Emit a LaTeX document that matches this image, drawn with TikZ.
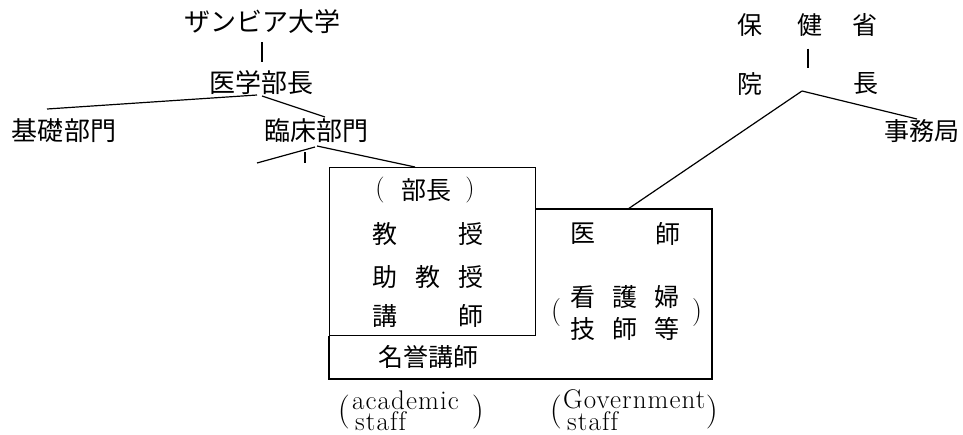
\documentclass[tikz,border=0pt]{standalone}
\usepackage{fontspec}
\newfontfamily\jp{Noto Sans CJK JP}
\newfontfamily\lsp[LetterSpace=4,Ligatures=NoCommon]{Latin Modern Roman}
\begin{document}
\begin{tikzpicture}[x=1pt,y=-1pt,
  jt/.style={font=\jp\fontsize{25}{28}\selectfont, inner sep=0pt},
  jtb/.style={font=\jp\fontsize{26}{28}\selectfont, inner sep=0pt},
  lt/.style={font=\lsp\fontsize{27}{27}\selectfont, inner sep=0pt, anchor=base west},
  bp/.style={font=\fontsize{34}{36}\selectfont, inner sep=0pt},
  ln/.style={line width=1.2pt, black}]
\useasboundingbox (0,0) rectangle (963,434);
% left hierarchy
\node[jtb] (zu) at (262,22) {ザンビア大学};
\node[jtb] (ig) at (261,83) {医学部長};
\node[jtb] (kiso) at (64,131) {基礎部門};
\node[jtb] (rin) at (316,131) {臨床部門};
\draw[ln] (zu.south |- 0,42) -- (zu.south |- 0,62);
\coordinate (igl) at (257,95);
\coordinate (igr) at (262,96);
\coordinate (kisoT) at (47,109);
\coordinate (rinT) at (325,117);
\draw[ln] (igl) -- (kisoT);
\draw[ln] (igr) -- (rinT);
\coordinate (rl) at (315,147);
\coordinate (rlend) at (257,163);
\coordinate (rv1) at (305,152);
\coordinate (rv2) at (305,163);
\coordinate (rr) at (317,146);
\draw[ln] (rl) -- (rlend);
\draw[ln] (rv1) -- (rv2);
% boxes
\node[draw, line width=1.2pt, minimum width=206pt, minimum height=168pt, anchor=north west, inner sep=0pt] (acad) at (329,167) {};
\draw[ln] (rr) -- (acad.north west -| 415,0);
\draw[ln] (acad.east |- 0,209) -- (712,209) -- (712,379) -- (329,379) -- (acad.south west);
% academic contents
\node[font=\fontsize{26}{28}\selectfont, inner sep=0pt] (bpl) at (380,190) {(};
\node[jt] (bucho) at (426,190) {部長};
\node[font=\fontsize{26}{28}\selectfont, inner sep=0pt] (bpr) at (470,190) {)};
\node[jt] (k1) at (385,234) {教};
\node[jt] (k2) at (471,234) {授};
\node[jt] (j1) at (385,277) {助};
\node[jt] (j2) at (428,277) {教};
\node[jt] (j3) at (471,277) {授};
\node[jt] (ko1) at (385,316) {講};
\node[jt] (ko2) at (471,316) {師};
\node[jt] (meiyo) at (428,357) {名誉講師};
% government contents
\node[jt] (i1) at (583,234) {医};
\node[jt] (i2) at (668,234) {師};
\node[jt] (n1) at (583,297) {看};
\node[jt] (n2) at (625,297) {護};
\node[jt] (n3) at (667,297) {婦};
\node[jt] (g1) at (583,329) {技};
\node[jt] (g2) at (625,329) {師};
\node[jt] (g3) at (667,329) {等};
\node[font=\fontsize{28}{30}\selectfont, inner sep=0pt] (gpl) at (556,313) {(};
\node[font=\fontsize{28}{30}\selectfont, inner sep=0pt] (gpr) at (697,313) {)};
% captions
\node[bp] (apl) at (344,412) {(};
\node[lt] (aw1) at (352,409) {academic};
\node[lt] (aw2) at (355,430) {staff};
\node[bp] (apr) at (478,412) {)};
\node[bp] (gpl2) at (556,412) {(};
\node[lt] (gw1) at (563,408) {Government};
\node[lt] (gw2) at (567,430) {staff};
\node[bp] (gpr2) at (712,412) {)};
% right hierarchy
\node[jt] (h1) at (750,25) {保};
\node[jt] (h2) at (810,25) {健};
\node[jt] (h3) at (865,25) {省};
\node[jt] (in1) at (750,84) {院};
\node[jt] (in2) at (866,84) {長};
\node[jt] (jim) at (922,131) {事務局};
\draw[ln] (h2.south -| 808,0) ++(0,12) -- (808,68);
\coordinate (peak) at (802,91);
\coordinate (govT) at (628,209);
\coordinate (jimT) at (917,119);
\draw[ln] (peak) -- (govT);
\draw[ln] (peak) -- (jimT);
\end{tikzpicture}
\end{document}
